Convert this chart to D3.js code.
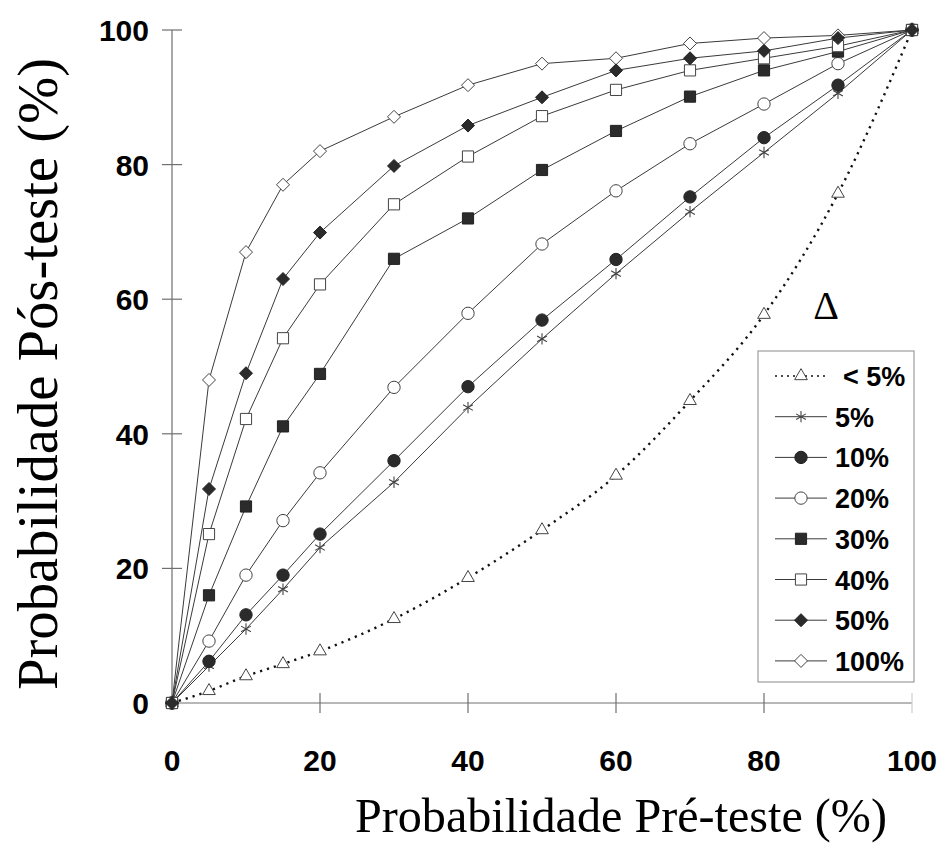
<!DOCTYPE html>
<html>
<head>
<meta charset="utf-8">
<script src="https://cdn.jsdelivr.net/npm/d3@7"></script>
<style>
  body { margin: 0; background: #fff; }
  svg { display: block; }
</style>
</head>
<body>
<div id="chart"></div>
<script>
// x values (pre-test probability, %)
var preTest = [0, 5, 10, 15, 20, 30, 40, 50, 60, 70, 80, 90, 100];

// post-test probability for each curve (%)
var lt5  = [0, 1.8, 4, 5.8, 7.7, 12.5, 18.6, 25.7, 33.8, 44.9, 57.7, 75.7, 100];
var p5   = [0, 5.5, 11, 16.9, 23.1, 32.8, 43.9, 54.1, 63.8, 73, 81.8, 90.6, 100];
var p10  = [0, 6.2, 13.1, 19, 25.1, 36, 47, 56.9, 65.9, 75.2, 84, 91.8, 100];
var p20  = [0, 9.2, 19, 27.1, 34.2, 46.9, 57.9, 68.2, 76.1, 83.1, 89, 95, 100];
var p30  = [0, 16, 29.2, 41.1, 48.9, 66, 72, 79.2, 85, 90.1, 94, 96.8, 100];
var p40  = [0, 25.1, 42.2, 54.2, 62.2, 74.1, 81.2, 87.2, 91.1, 94, 95.8, 97.6, 100];
var p50  = [0, 31.8, 49, 63, 69.9, 79.8, 85.8, 90, 94, 95.8, 96.9, 98.8, 100];
var p100 = [0, 48, 67, 77, 82, 87.1, 91.8, 95, 95.8, 98, 98.8, 99.2, 100];

var seriesNames = ["< 5%", "5%", "10%", "20%", "30%", "40%", "50%", "100%"];
var seriesValues = [lt5, p5, p10, p20, p30, p40, p50, p100];
var xTicks = [0, 20, 40, 60, 80, 100];
var yTicks = [0, 20, 40, 60, 80, 100];

// marker style per series: [shape, filled]
var markers = [
  ["triangle", false], ["asterisk", false], ["circle", true], ["circle", false],
  ["square", true], ["square", false], ["diamond", true], ["diamond", false]
];

var W = 941, H = 851;
var svg = d3.select("#chart").append("svg")
  .attr("width", W).attr("height", H);

var x = d3.scaleLinear().domain([0, 100]).range([172, 912]);
var y = d3.scaleLinear().domain([0, 100]).range([703, 30]);

var lineCol = "#3a3a3a", fillCol = "#2b2b2b";

// axes (ticks cross the axis line)
var axes = svg.append("g").attr("stroke", "#707070").attr("stroke-width", 1.2);
axes.append("line").attr("x1", x(0)).attr("x2", x(0)).attr("y1", y(100)).attr("y2", y(0));
axes.append("line").attr("x1", x(0)).attr("x2", x(100)).attr("y1", y(0)).attr("y2", y(0));
axes.selectAll(".yt").data(yTicks.filter(d => d > 0)).enter().append("line")
  .attr("x1", x(0) - 10).attr("x2", x(0) + 10)
  .attr("y1", d => y(d)).attr("y2", d => y(d));
axes.selectAll(".xt").data(xTicks.filter(d => d > 0)).enter().append("line")
  .attr("x1", d => x(d)).attr("x2", d => x(d))
  .attr("y1", y(0) - 10).attr("y2", y(0) + 10)
  .attr("stroke", d => d == 100 ? "#cfcfcf" : null);

// tick labels
svg.selectAll(".ylab").data(yTicks).enter().append("text")
  .attr("x", 149).attr("y", d => y(d) + 11)
  .attr("text-anchor", "end")
  .attr("font-family", "Liberation Sans, Arial, sans-serif")
  .attr("font-weight", "bold").attr("font-size", 30)
  .text(d => d);
svg.selectAll(".xlab").data(xTicks).enter().append("text")
  .attr("x", d => x(d)).attr("y", 771)
  .attr("text-anchor", "middle")
  .attr("font-family", "Liberation Sans, Arial, sans-serif")
  .attr("font-weight", "bold").attr("font-size", 30)
  .text(d => d);

// axis titles
svg.append("text")
  .attr("x", 621).attr("y", 832)
  .attr("text-anchor", "middle")
  .attr("font-family", "Liberation Serif, Times New Roman, serif")
  .attr("font-size", 49)
  .attr("textLength", 532).attr("lengthAdjust", "spacingAndGlyphs")
  .text("Probabilidade Pré-teste (%)");
svg.append("text")
  .attr("transform", "translate(57,374) rotate(-90)")
  .attr("text-anchor", "middle")
  .attr("font-family", "Liberation Serif, Times New Roman, serif")
  .attr("font-size", 56)
  .attr("textLength", 632).attr("lengthAdjust", "spacingAndGlyphs")
  .text("Probabilidade Pós-teste (%)");

function symbolPath(shape) {
  if (shape == "circle") return d3.symbol().type(d3.symbolCircle).size(120)();
  if (shape == "square") return d3.symbol().type(d3.symbolSquare).size(125)();
  if (shape == "triangle") return d3.symbol().type(d3.symbolTriangle).size(70)();
  if (shape == "asterisk") return d3.symbol().type(d3.symbolAsterisk).size(90)();
  // diamond: square rotated 45 degrees
  var s = 6.5;
  return "M0," + (-s) + "L" + s + ",0L0," + s + "L" + (-s) + ",0Z";
}

function drawMarker(g, shape, filled) {
  g.append("path")
    .attr("d", symbolPath(shape))
    .attr("fill", shape == "asterisk" ? "none" : (filled ? fillCol : "#fff"))
    .attr("stroke", filled ? "#222" : "#444")
    .attr("stroke-width", shape == "asterisk" ? 1.1 : 1);
}

var line = d3.line().x((d, i) => x(preTest[i])).y(d => y(d));
var smooth = d3.line().x((d, i) => x(preTest[i])).y(d => y(d)).curve(d3.curveMonotoneX);

// lines
seriesValues.forEach(function(vals, k) {
  svg.append("path")
    .datum(vals)
    .attr("d", k == 0 ? smooth : line)
    .attr("fill", "none")
    .attr("stroke", k == 0 ? "#111" : lineCol)
    .attr("stroke-width", k == 0 ? 2.4 : 1)
    .attr("stroke-dasharray", k == 0 ? "2.2,5" : null);
});

// markers: the 100% curve first, so the filled diamonds sit on top
var order = [7, 0, 1, 2, 3, 4, 5, 6];
order.forEach(function(k) {
  seriesValues[k].forEach(function(v, i) {
    var g = svg.append("g").attr("transform", "translate(" + x(preTest[i]) + "," + y(v) + ")");
    drawMarker(g, markers[k][0], markers[k][1]);
  });
});

// delta symbol
svg.append("text")
  .attr("x", 826).attr("y", 319)
  .attr("text-anchor", "middle")
  .attr("font-family", "Liberation Serif, Times New Roman, serif")
  .attr("font-size", 40)
  .text("Δ");

// legend
var leg = svg.append("g");
leg.append("rect")
  .attr("x", 758).attr("y", 351).attr("width", 156).attr("height", 331)
  .attr("fill", "#fff").attr("stroke", "#8a8a8a").attr("stroke-width", 1);
seriesNames.forEach(function(name, k) {
  var cy = 376 + k * 40.7;
  var row = leg.append("g");
  row.append("line")
    .attr("x1", 775).attr("x2", 827).attr("y1", cy).attr("y2", cy)
    .attr("stroke", k == 0 ? "#111" : lineCol)
    .attr("stroke-width", k == 0 ? 1.4 : 1)
    .attr("stroke-dasharray", k == 0 ? "2,4" : null);
  var g = row.append("g").attr("transform", "translate(801," + cy + ")");
  drawMarker(g, markers[k][0], markers[k][1]);
  row.append("text")
    .attr("x", k == 0 ? 843 : 835).attr("y", cy + 10)
    .attr("font-family", "Liberation Sans, Arial, sans-serif")
    .attr("font-weight", "bold").attr("font-size", 27)
    .text(name);
});
</script>
</body>
</html>
